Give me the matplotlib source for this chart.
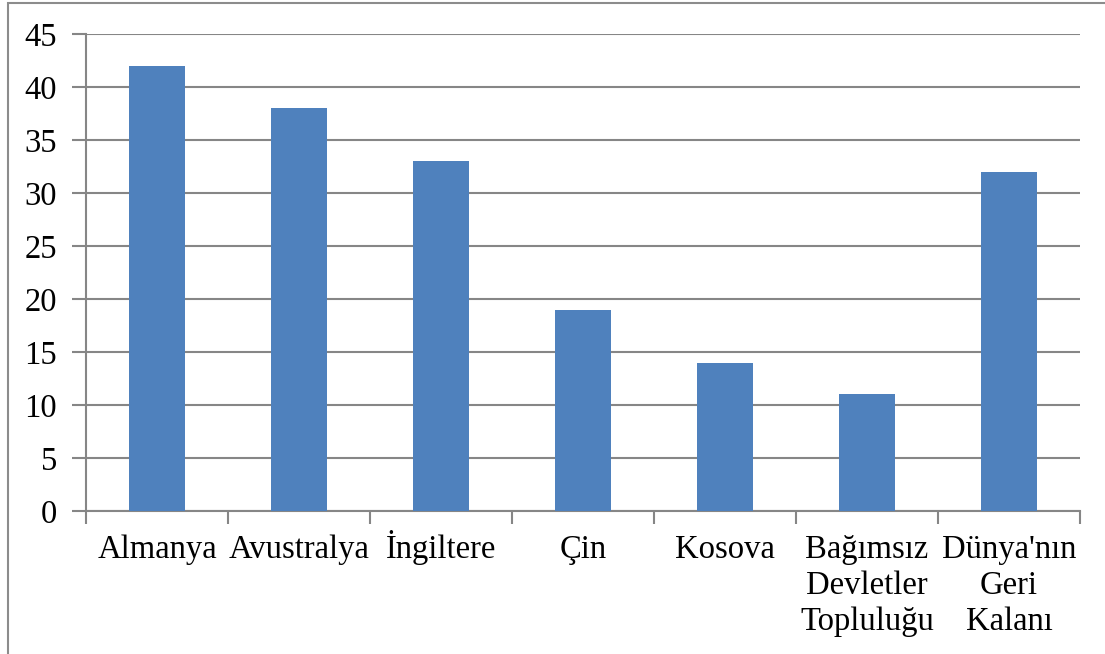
import numpy as np
import matplotlib.pyplot as plt
from matplotlib.patches import Rectangle

# data
categories = ['Almanya', 'Avustralya', 'İngiltere', 'Çin', 'Kosova',
              'Bağımsız\nDevletler\nTopluluğu', "Dünya'nın\nGeri\nKalanı"]
values = [42, 38, 33, 19, 14, 11, 32]
yticks = [0, 5, 10, 15, 20, 25, 30, 35, 40, 45]

plt.rcParams['font.family'] = ['Liberation Serif', 'DejaVu Serif']

fig = plt.figure(figsize=(11.05, 6.54), dpi=100)
ax = fig.add_axes([86/1105, 1-511/654, (1080-86)/1105, (511-34)/654])

# outer chart border (only left and top visible in the reference)
fig.patches.append(Rectangle((8/1105, -0.05), 1.2, 1-2.5/654+0.05,
                             transform=fig.transFigure, fill=False,
                             edgecolor='#8c8c8c', linewidth=1.5))

x = np.arange(len(categories))
ax.bar(x, values, width=0.4, color='#4f81bd', zorder=3)

ax.set_xlim(-0.5, len(categories)-0.5)
ax.set_ylim(0, 45)
ax.set_yticks(yticks)
ax.set_xticks(x)
ax.set_xticklabels([])
ax.set_xticks(np.arange(-0.5, len(categories), 1), minor=True)
ax.tick_params(axis='x', which='major', length=0)
ax.tick_params(axis='x', which='minor', length=9, width=1.5, color='#868686')
ax.tick_params(axis='y', labelsize=23.5, length=10, width=1.5, color='#868686', pad=11)

# category labels, one line at a time on a common baseline (Word style)
for xi, lab in zip(x, categories):
    for i, line in enumerate(lab.split('\n')):
        ax.annotate(line, xy=(xi, 0), xycoords=('data', 'axes fraction'),
                    xytext=(0, -34 - 26*i), textcoords='offset points',
                    ha='center', va='baseline', fontsize=23.5)

ax.grid(axis='y', color='#868686', linewidth=1.5, zorder=0)
for s in ['top', 'right']:
    ax.spines[s].set_visible(False)
for s in ['left', 'bottom']:
    ax.spines[s].set_color('#868686')
    ax.spines[s].set_linewidth(1.5)

plt.savefig('out.png', dpi=100)
